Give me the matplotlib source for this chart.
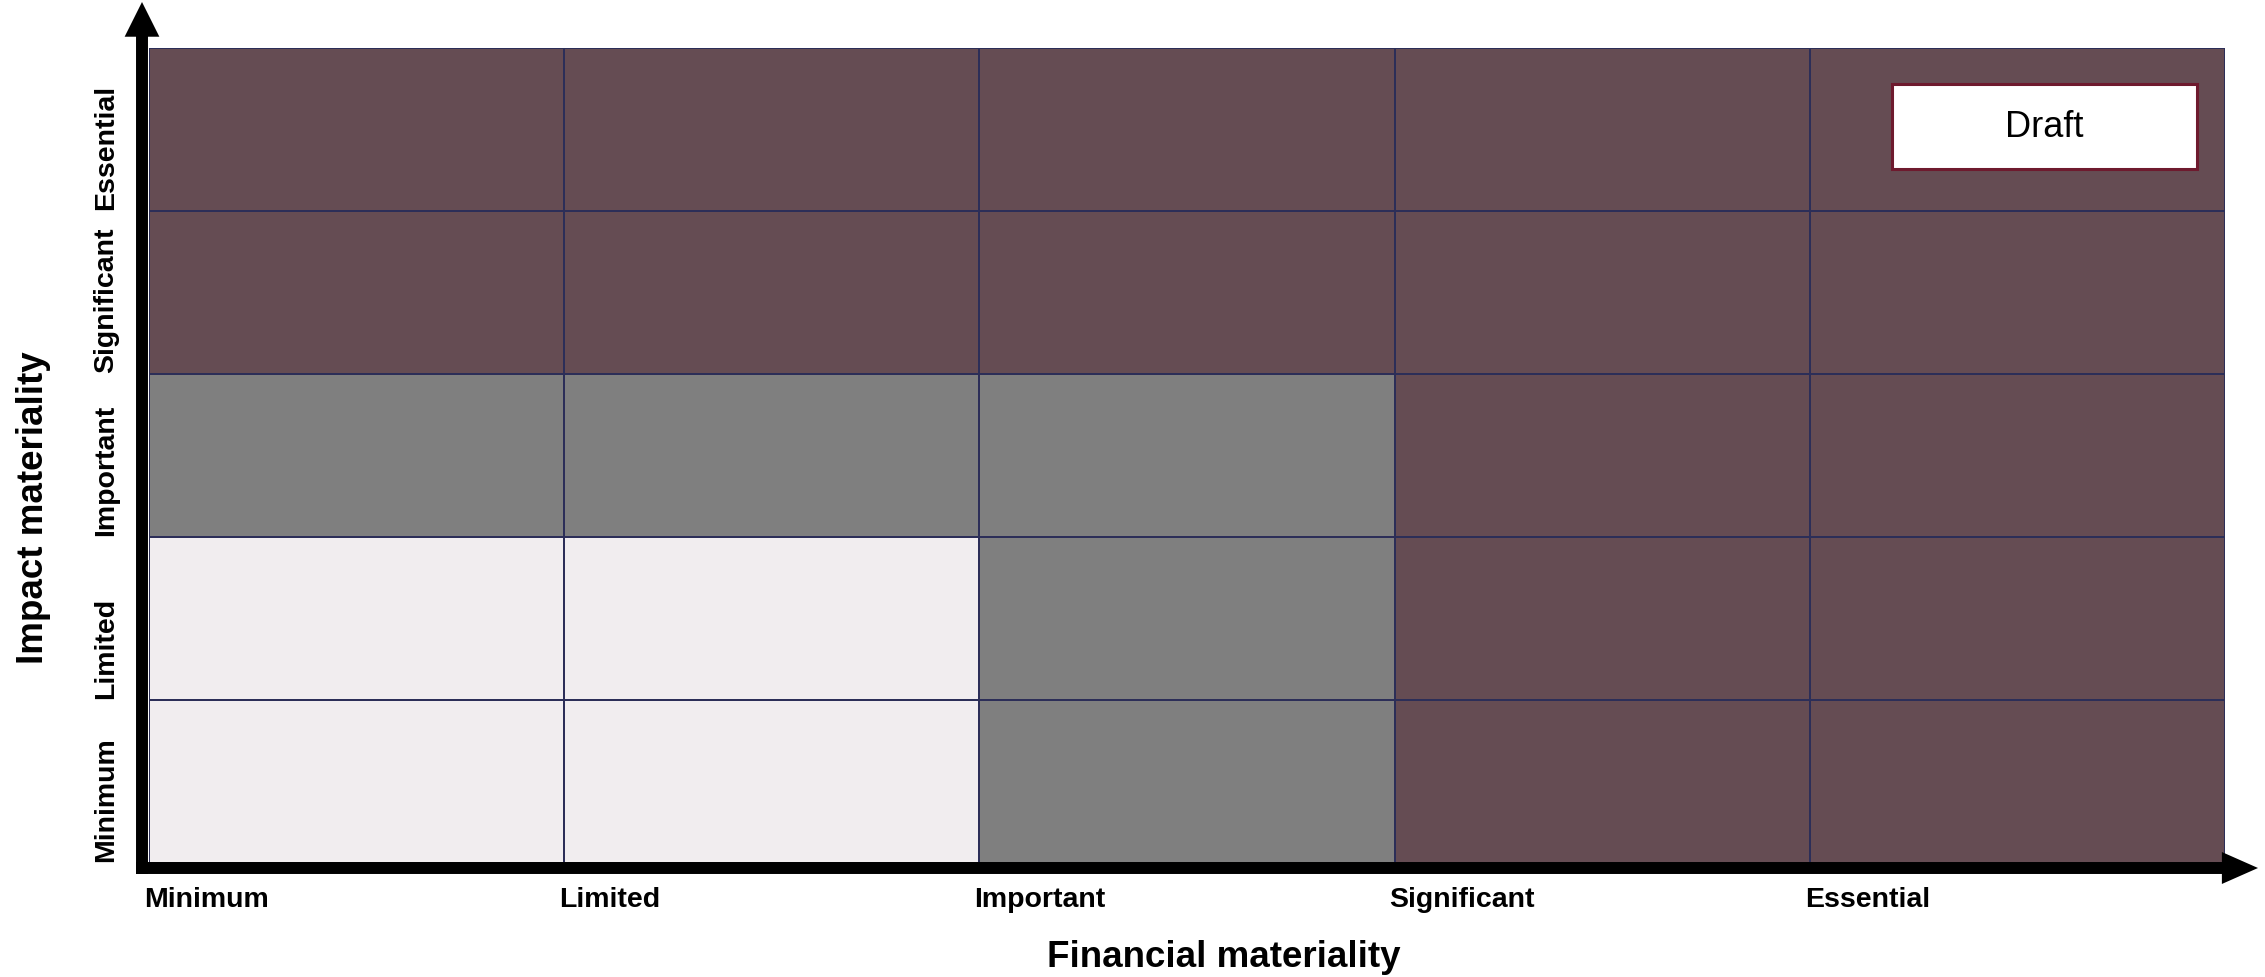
import numpy as np
import matplotlib
matplotlib.use('Agg')
import matplotlib.pyplot as plt
from matplotlib.colors import ListedColormap
from matplotlib.patches import Rectangle, FancyArrowPatch, ArrowStyle
from matplotlib.transforms import blended_transform_factory

plt.rcParams['font.family'] = ['Liberation Sans', 'DejaVu Sans']

# categories, same for both axes
levels = ['Minimum', 'Limited', 'Important', 'Significant', 'Essential']
x_title = 'Financial materiality'
y_title = 'Impact materiality'

# zone per cell: 0 = low, 1 = medium, 2 = high ; rows from Minimum (bottom) to Essential (top)
zones = np.array([
    [0, 0, 1, 2, 2],
    [0, 0, 1, 2, 2],
    [1, 1, 1, 2, 2],
    [2, 2, 2, 2, 2],
    [2, 2, 2, 2, 2],
])
zone_colors = ['#F1EDEF', '#7F7F7F', '#654C53']

W, H = 2265, 978
fig = plt.figure(figsize=(W / 100, H / 100), dpi=100)
ax = fig.add_axes([149 / W, 1 - 864 / H, (2225 - 149) / W, (864 - 49) / H])

ax.pcolormesh(np.arange(6), np.arange(6), zones, cmap=ListedColormap(zone_colors),
              vmin=-0.5, vmax=2.5, edgecolors='#2C2E58', linewidth=1.1)
ax.set_xlim(0, 5)
ax.set_ylim(0, 5)
ax.set_axis_off()

# category labels
tx = blended_transform_factory(ax.transData, ax.transAxes)
for i, lab in enumerate(levels):
    ax.text(i - 0.012, -0.044, lab, transform=tx, ha='left', va='center',
            fontsize=20.5, fontweight='bold', clip_on=False)
ty = blended_transform_factory(ax.transAxes, ax.transData)
for i, lab in enumerate(levels):
    ax.text(-0.0205, i + 0.01, lab, transform=ty, ha='center', va='bottom', rotation=90,
            fontsize=20.5, fontweight='bold', clip_on=False)

# axis titles
fig.text(1224 / W, 1 - 958 / H, x_title, ha='center', va='center', fontsize=26.5, fontweight='bold')
fig.text(34 / W, 1 - 508 / H, y_title, ha='center', va='center', rotation=90,
         fontsize=26.5, fontweight='bold')

# Draft box
ax.add_patch(Rectangle((0.8396, 0.8515), 0.1469, 0.1043, transform=ax.transAxes,
                       facecolor='white', edgecolor='#6E1A2E', linewidth=2.2, zorder=5))
ax.text(0.9131, 0.9037, 'Draft', transform=ax.transAxes, ha='center', va='center',
        fontsize=26, zorder=6)

# arrow axes
px = fig.dpi_scale_trans
yarrow = FancyArrowPatch((142 / 100, (H - 875) / 100), (142 / 100, (H - 3) / 100),
                         transform=px, mutation_scale=1, linewidth=0, color='black',
                         shrinkA=0, shrinkB=0,
                         arrowstyle=ArrowStyle.Simple(head_length=25, head_width=25, tail_width=8.6))
xarrow = FancyArrowPatch((136 / 100, (H - 869) / 100), (2258 / 100, (H - 869) / 100),
                         transform=px, mutation_scale=1, linewidth=0, color='black',
                         shrinkA=0, shrinkB=0,
                         arrowstyle=ArrowStyle.Simple(head_length=26, head_width=23, tail_width=8.6))
fig.add_artist(yarrow)
fig.add_artist(xarrow)

fig.savefig('out.png', dpi=100)
